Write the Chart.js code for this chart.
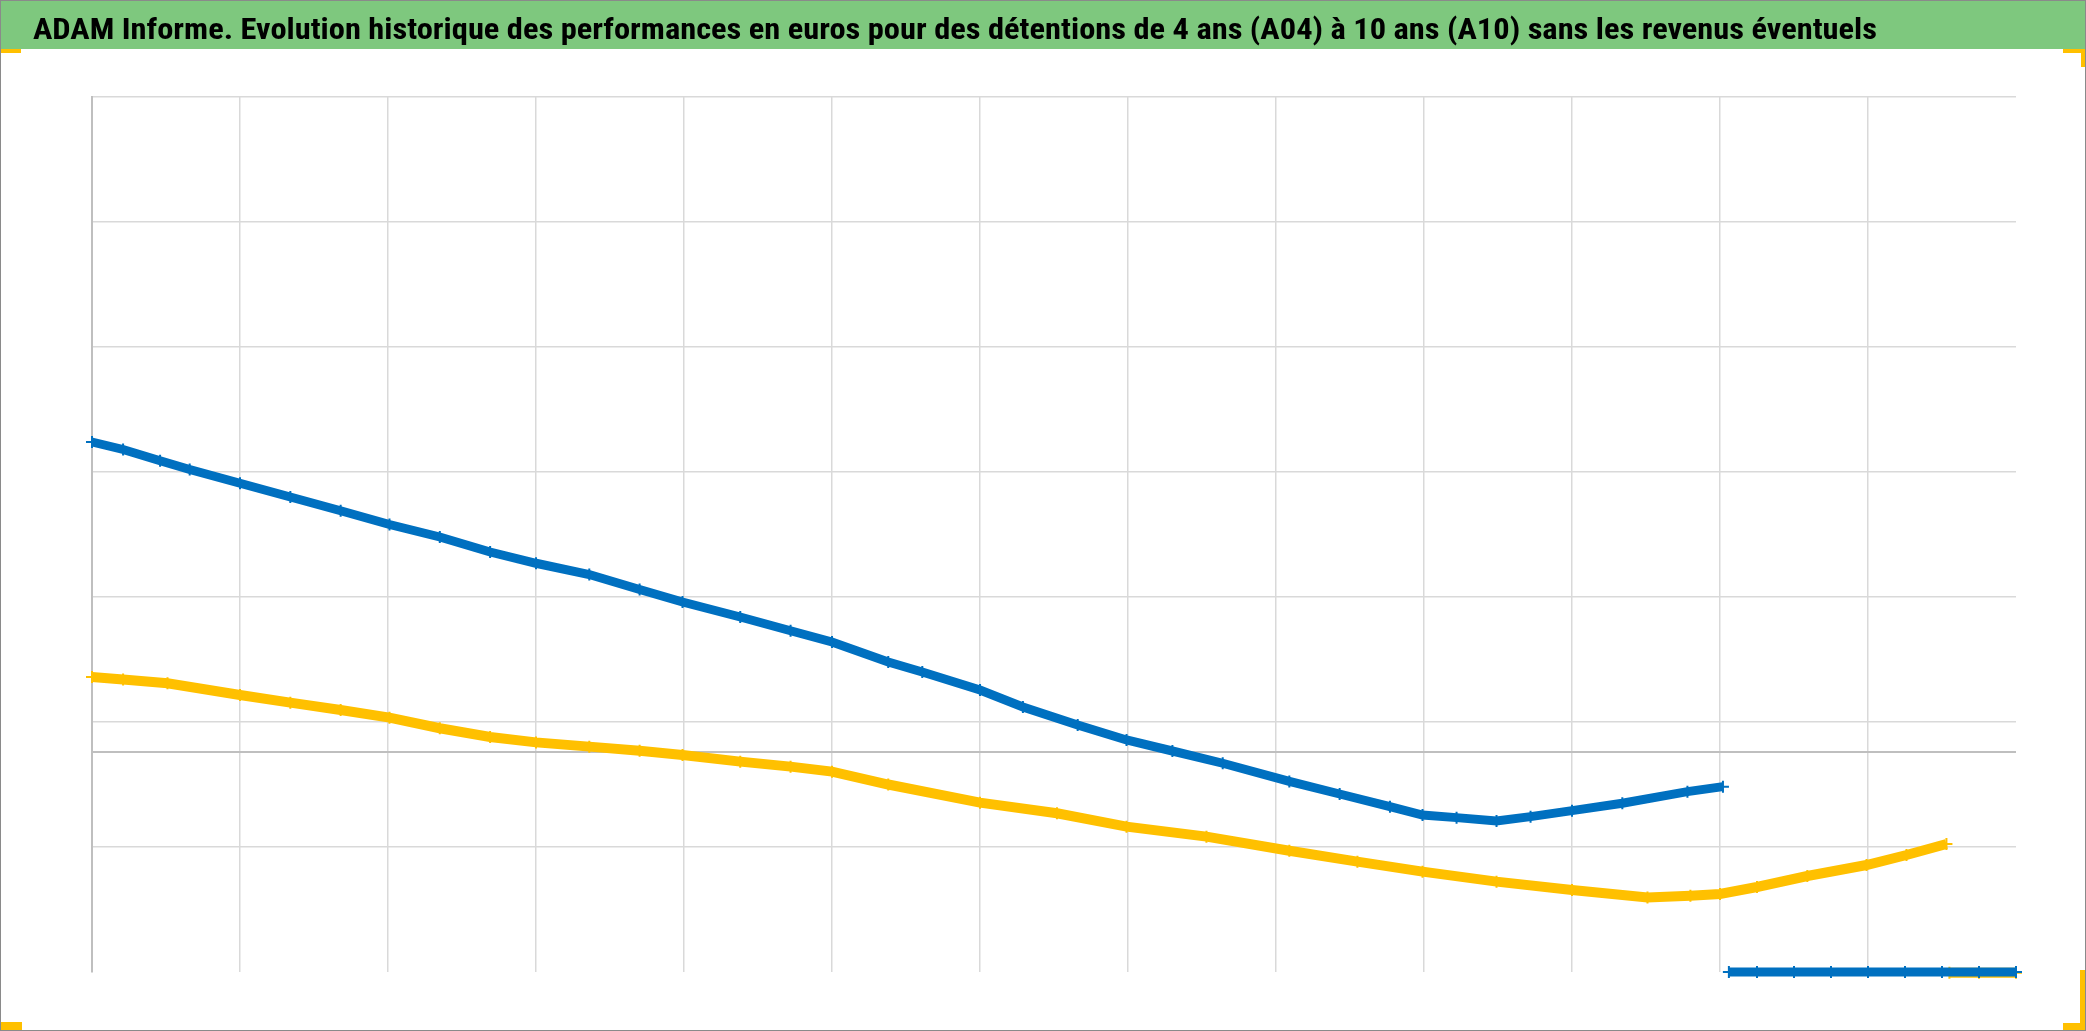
<!DOCTYPE html>
<html>
<head>
<meta charset="utf-8">
<script src="https://cdn.jsdelivr.net/npm/chart.js@4.4.1/dist/chart.umd.min.js"></script>
<style>
  html, body { margin: 0; padding: 0; background: #ffffff; }
  #wrap { position: relative; width: 2086px; height: 1031px; }
</style>
</head>
<body>
<div id="wrap"><canvas id="c"></canvas></div>
<script>
// ---- data (x in axis-interval units, y in chart units) ----
const TITLE = "ADAM Informe. Evolution historique des performances en euros pour des détentions de 4 ans (A04) à 10 ans (A10) sans les revenus éventuels";

const blueX = [0, 0.21, 0.46, 0.66, 1.00, 1.34, 1.68, 2.01, 2.35, 2.69, 3.00, 3.36, 3.70, 3.99, 4.38, 4.72, 5.00, 5.38, 5.61, 6.00, 6.29, 6.66, 6.99, 7.30, 7.64, 8.09, 8.43, 8.77, 8.99, 9.22, 9.49, 9.72, 10.00, 10.34, 10.78, 11.02];
const blueY = [24.8, 24.2, 23.3, 22.6, 21.5, 20.4, 19.3, 18.2, 17.2, 16.0, 15.1, 14.2, 13.0, 12.0, 10.8, 9.7, 8.8, 7.2, 6.4, 4.96, 3.6, 2.16, 0.96, 0.08, -0.9, -2.35, -3.36, -4.37, -5.04, -5.25, -5.52, -5.17, -4.69, -4.1, -3.17, -2.77];

const yellowX = [0, 0.21, 0.51, 1.00, 1.34, 1.68, 2.01, 2.35, 2.69, 3.00, 3.36, 3.70, 3.99, 4.38, 4.72, 5.00, 5.38, 6.00, 6.52, 6.99, 7.53, 8.09, 8.55, 8.99, 9.49, 10.00, 10.51, 10.80, 11.00, 11.25, 11.59, 11.99, 12.26, 12.53];
const yellowY = [6.0, 5.8, 5.5, 4.56, 3.95, 3.36, 2.75, 1.9, 1.2, 0.77, 0.43, 0.1, -0.24, -0.77, -1.17, -1.57, -2.6, -4.05, -4.9, -5.97, -6.77, -7.9, -8.77, -9.57, -10.37, -11.04, -11.63, -11.5, -11.36, -10.8, -9.92, -9.04, -8.24, -7.36];

// points lying on the bottom edge of the plot
const blueFloorX = [11.06, 11.25, 11.5, 11.75, 12.0, 12.25, 12.5, 12.75, 13.0];
const blueFloorY = [-17.6, -17.6, -17.6, -17.6, -17.6, -17.6, -17.6, -17.6, -17.6];
const yellowFloorX = [12.55, 12.75, 13.0];
const yellowFloorY = [-17.65, -17.65, -17.65];

const yTicks = [-17.6, -7.6, 0, 2.4, 12.4, 22.4, 32.4, 42.4, 52.4];
const xMin = 0, xMax = 13;

// ---- build ----
function pts(xs, ys) { return xs.map((x, i) => ({ x: x, y: ys[i] })); }
function series(xs, ys, fx, fy) {
  const a = pts(xs, ys);
  a.push({ x: xs[xs.length - 1], y: null });
  return a.concat(pts(fx, fy));
}

const BLUE = '#0070C0', YELLOW = '#FFC000';

const frame = {
  id: 'frame',
  beforeDraw(chart) {
    const ctx = chart.ctx;
    ctx.save();
    ctx.fillStyle = '#ffffff';
    ctx.fillRect(0, 0, chart.width, chart.height);
    ctx.fillStyle = '#7ec87e';
    ctx.fillRect(0, 0, chart.width, 49);
    // title text
    ctx.fillStyle = '#000000';
    ctx.textBaseline = 'alphabetic';
    ctx.font = 'bold 30px "Liberation Sans Narrow", "Roboto Condensed", "Open Sans", sans-serif';
    const w = ctx.measureText(TITLE).width;
    const target = 1844;
    ctx.translate(33, 39);
    ctx.scale(target / w, 1);
    ctx.fillText(TITLE, 0, 0);
    ctx.restore();
  },
  afterDraw(chart) {
    const ctx = chart.ctx;
    ctx.save();
    ctx.fillStyle = YELLOW;
    // corner handles
    ctx.fillRect(0, 49, 21, 4);
    ctx.fillRect(2063, 49, 23, 4);
    ctx.fillRect(2081, 49, 5, 18);
    ctx.fillRect(2080, 970, 6, 61);
    ctx.fillRect(2063, 1023, 23, 8);
    ctx.fillRect(0, 1022, 22, 9);
    ctx.strokeStyle = '#8a8a8a';
    ctx.lineWidth = 1;
    ctx.strokeRect(0.5, 0.5, chart.width - 1, chart.height - 1);
    ctx.restore();
  }
};

new Chart(document.getElementById('c'), {
  type: 'line',
  data: {
    datasets: [
      {
        label: 'A04',
        data: series(blueX, blueY, blueFloorX, blueFloorY),
        borderColor: BLUE, backgroundColor: BLUE,
        borderWidth: 9, pointStyle: 'cross', pointRadius: 6, pointBorderWidth: 2,
        pointBorderColor: BLUE, spanGaps: false, tension: 0, clip: false, order: 1
      },
      {
        label: 'A10',
        data: series(yellowX, yellowY, yellowFloorX, yellowFloorY),
        borderColor: YELLOW, backgroundColor: YELLOW,
        borderWidth: 10, pointStyle: 'cross', pointRadius: 6, pointBorderWidth: 2,
        pointBorderColor: YELLOW, spanGaps: false, tension: 0, clip: false, order: 2
      }
    ]
  },
  options: {
    responsive: true,
    maintainAspectRatio: false,
    animation: false,
    events: [],
    layout: { padding: { left: 92, top: 97, right: 70, bottom: 59 } },
    plugins: { legend: { display: false }, title: { display: false }, tooltip: { enabled: false } },
    scales: {
      x: {
        type: 'linear', min: xMin, max: xMax,
        afterFit(s) { s.height = 0; },
        ticks: { display: false, stepSize: 1 },
        border: { display: false },
        grid: {
          drawTicks: false, lineWidth: 1.5,
          color: (c) => (c.tick && c.tick.value >= xMax) ? 'rgba(0,0,0,0)' : '#d9d9d9'
        }
      },
      y: {
        type: 'linear', min: yTicks[0], max: yTicks[yTicks.length - 1],
        afterFit(s) { s.width = 0; },
        afterBuildTicks(s) { s.ticks = yTicks.map(v => ({ value: v })); },
        ticks: { display: false },
        border: { display: true, color: '#bfbfbf', width: 2 },
        grid: {
          drawTicks: false,
          lineWidth: (c) => (c.tick && c.tick.value === 0) ? 2 : 1.5,
          color: (c) => {
            if (!c.tick) return '#d9d9d9';
            if (c.tick.value === yTicks[0]) return 'rgba(0,0,0,0)';
            if (c.tick.value === 0) return '#bfbfbf';
            return '#d9d9d9';
          }
        }
      }
    }
  },
  plugins: [frame]
});
</script>
</body>
</html>
